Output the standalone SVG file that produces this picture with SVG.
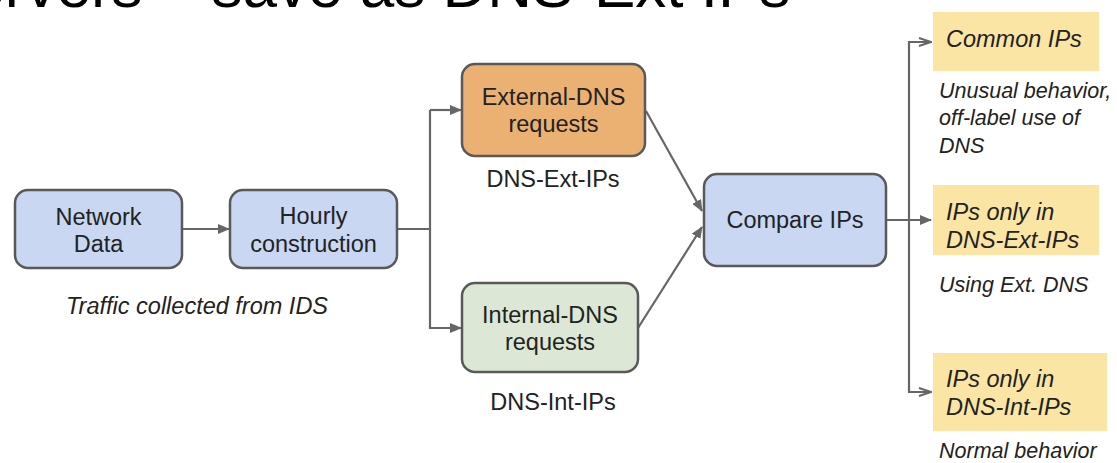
<svg xmlns="http://www.w3.org/2000/svg" width="1117" height="463" viewBox="0 0 1117 463">
<defs>
<style>
.t{font-family:"Liberation Sans",Arial,sans-serif;fill:#222;text-anchor:middle;font-size:23.5px}
.i{font-family:"Liberation Sans",Arial,sans-serif;fill:#222;font-style:italic}
.box{stroke:#595959;stroke-width:2.5}
.c{fill:none;stroke:#666;stroke-width:2.2}
</style>
<marker id="a" markerWidth="12" markerHeight="10" refX="11" refY="5" orient="auto" markerUnits="userSpaceOnUse">
<path d="M0,0 L12,5 L0,10 Z" fill="#666"/>
</marker>
<marker id="o" markerWidth="14" markerHeight="10" refX="13" refY="5" orient="auto" markerUnits="userSpaceOnUse">
<path d="M1,1 L13,5 L1,9" fill="none" stroke="#666" stroke-width="2"/>
</marker>
</defs>
<rect width="1117" height="463" fill="#fff"/>
<text x="-71" y="7" font-family="Liberation Sans,Arial,sans-serif" font-size="62" fill="#000">Servers – save as DNS-Ext IPs</text>

<g id="connectors">
<line class="c" x1="182" y1="229" x2="229" y2="229" marker-end="url(#a)"/>
<polyline class="c" points="397,229 430,229"/>
<polyline class="c" points="430,110 430,328 461,328" marker-end="url(#a)"/>
<polyline class="c" points="430,110 461,110" marker-end="url(#a)"/>
<line class="c" x1="646" y1="111" x2="702" y2="211" marker-end="url(#a)"/>
<line class="c" x1="638" y1="328" x2="702" y2="227" marker-end="url(#a)"/>
<line class="c" x1="886" y1="220" x2="931" y2="220" marker-end="url(#a)"/>
<polyline class="c" points="909,220 909,42 931,42" marker-end="url(#o)"/>
<polyline class="c" points="909,220 909,392 931,392" marker-end="url(#o)"/>
</g>

<g id="network-data">
<rect class="box" x="15" y="190" width="167" height="78" rx="13" fill="#c9d7f3"/>
<text class="t" x="98.5" y="225">Network</text>
<text class="t" x="98.5" y="252">Data</text>
<text class="i" x="66" y="314" font-size="23.5">Traffic collected from IDS</text>
</g>

<g id="hourly">
<rect class="box" x="230" y="190" width="167" height="78" rx="13" fill="#c9d7f3"/>
<text class="t" x="313.5" y="224">Hourly</text>
<text class="t" x="313.5" y="252">construction</text>
</g>

<g id="external">
<rect class="box" x="462" y="64" width="183" height="92" rx="13" fill="#ebb173"/>
<text class="t" x="553.5" y="105">External-DNS</text>
<text class="t" x="553.5" y="132">requests</text>
<text class="t" x="553" y="187">DNS-Ext-IPs</text>
</g>

<g id="internal">
<rect class="box" x="462" y="283" width="176" height="89" rx="13" fill="#dce8d5"/>
<text class="t" x="550" y="323">Internal-DNS</text>
<text class="t" x="550" y="350">requests</text>
<text class="t" x="553" y="410">DNS-Int-IPs</text>
</g>

<g id="compare">
<rect class="box" x="704" y="174" width="182" height="92" rx="13" fill="#c9d7f3"/>
<text class="t" x="795" y="228">Compare IPs</text>
</g>

<g id="common">
<rect x="933" y="12" width="166" height="59" fill="#fbe5a4"/>
<text class="i" x="946" y="47" font-size="23.5">Common IPs</text>
<text class="i" x="939" y="98" font-size="21.5">Unusual behavior,</text>
<text class="i" x="939" y="125" font-size="21.5">off-label use of</text>
<text class="i" x="939" y="153" font-size="21.5">DNS</text>
</g>

<g id="only-ext">
<rect x="933" y="185" width="166" height="70" fill="#fbe5a4"/>
<text class="i" x="946" y="220" font-size="23.5">IPs only in</text>
<text class="i" x="946" y="248" font-size="23.5">DNS-Ext-IPs</text>
<text class="i" x="939" y="292" font-size="21.5">Using Ext. DNS</text>
</g>

<g id="only-int">
<rect x="933" y="353" width="174" height="78" fill="#fbe5a4"/>
<text class="i" x="946" y="387" font-size="23.5">IPs only in</text>
<text class="i" x="946" y="415" font-size="23.5">DNS-Int-IPs</text>
<text class="i" x="939" y="458" font-size="21.5">Normal behavior</text>
</g>
</svg>
